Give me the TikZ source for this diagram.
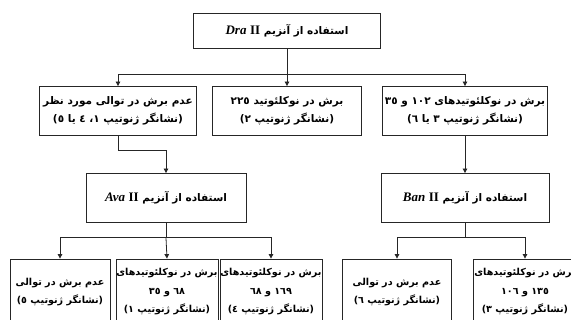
\documentclass[tikz,border=0pt]{standalone}
\usepackage{fontspec}
\setmainfont{Liberation Serif}
\newfontfamily\arabicfont[Script=Arabic]{DejaVu Sans}
\TeXXeTstate=1
\usetikzlibrary{arrows.meta,positioning}
\tikzset{
  box/.style ={draw=black!85, line width=0.8pt, align=center, inner sep=2pt,
               font=\arabicfont\bfseries\fontsize{10.5}{18}\selectfont},
  top/.style ={box, minimum height=49pt},
  leaf/.style={box, minimum height=66pt, inner sep=0.5pt,
               font=\arabicfont\bfseries\fontsize{9.6}{18.5}\selectfont},
  ln/.style  ={line width=0.8pt, draw=black!85},
  fl/.style  ={ln, -{Triangle[length=4.5pt,width=4.5pt]}}
}
\newcommand{\fa}[1]{\beginR #1\endR}
\newcommand{\enz}[1]{\beginL{\normalfont\bfseries\itshape\fontsize{13}{18}\selectfont #1}%
  \ {\normalfont\bfseries\fontsize{13}{18}\selectfont II}\endL}

\begin{document}
\begin{tikzpicture}[x=1pt,y=-1pt]
  \useasboundingbox (0,0) rectangle (571,320);
  \clip (0,0) rectangle (571,320);

  % first digestion
  \node[box, minimum width=187pt, minimum height=35pt](dra) at (287,30.5)
       {\fa{استفاده از آنزیم \enz{Dra}}};
  \node[top, minimum width=157pt](nocut) at (118,111)
       {\fa{عدم برش در توالی مورد نظر}\\\fa{(نشانگر ژنوتیپ ١، ٤ یا ٥)}};
  \node[top, minimum width=149pt](cut225) at (287,111)
       {\fa{برش در نوکلئوتید ٢٢٥}\\\fa{(نشانگر ژنوتیپ ٢)}};
  \node[top, minimum width=165pt](cut102) at (465,111)
       {\fa{برش در نوکلئوتیدهای ١٠٢ و ٣٥}\\\fa{(نشانگر ژنوتیپ ٣ یا ٦)}};

  % second digestion
  \node[top, minimum width=160pt](ava) at (166,198)
       {\fa{استفاده از آنزیم \enz{Ava}}};
  \node[top, minimum width=168pt](ban) at (465,198)
       {\fa{استفاده از آنزیم \enz{Ban}}};

  % genotypes
  \node[leaf, minimum width=100pt](g5) at (60,292)
       {\fa{عدم برش در توالی}\\\fa{(نشانگر ژنوتیپ ٥)}};
  \node[leaf, minimum width=100pt](g1) at (167,292)
       {\fa{برش در نوکلئوتیدهای}\\\fa{٦٨ و ٣٥}\\\fa{(نشانگر ژنوتیپ ١)}};
  \node[leaf, minimum width=98pt](g4) at (271,292)
       {\fa{برش در نوکلئوتیدهای}\\\fa{١٦٩ و ٦٨}\\\fa{(نشانگر ژنوتیپ ٤)}};
  \node[leaf, minimum width=109pt](g6) at (397,292)
       {\fa{عدم برش در توالی}\\\fa{(نشانگر ژنوتیپ ٦)}};
  \node[leaf, minimum width=104pt](g3) at (525,292)
       {\fa{برش در نوکلئوتیدهای}\\\fa{١٣٥ و ١٠٦}\\\fa{(نشانگر ژنوتیپ ٣)}};

  \draw[ln](dra.south) -- ++(0,26) coordinate(j1);
  \draw[fl](j1) -| (nocut.north);
  \draw[fl](j1) -- (cut225.north);
  \draw[fl](j1) -| (cut102.north);
  \draw[fl](nocut.south) -- ++(0,15) -| (ava.north);
  \draw[fl](cut102.south) -- (ban.north);
  \draw[ln](ava.south) -- ++(0,15) coordinate(j2);
  \draw[fl](j2) -| (g5.north);\draw[fl](j2) -- (g1.north);\draw[fl](j2) -| (g4.north);
  \draw[ln](ban.south) -- ++(0,15) coordinate(j3);
  \draw[fl](j3) -| (g6.north);\draw[fl](j3) -| (g3.north);
\end{tikzpicture}
\end{document}
